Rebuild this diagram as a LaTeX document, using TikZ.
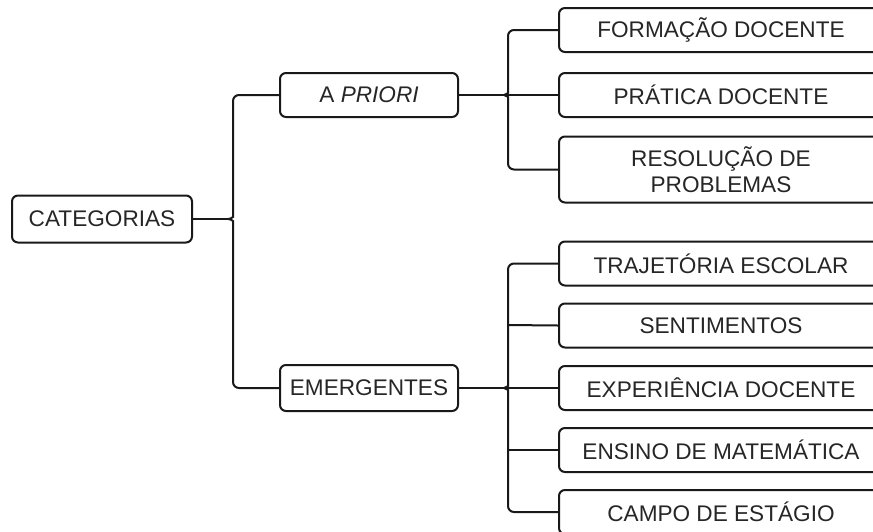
\documentclass[tikz,border=0pt]{standalone}
\usepackage{fontspec}
\setmainfont{Liberation Sans}
\begin{document}
\begin{tikzpicture}[x=1pt,y=-1pt,
  box/.style={draw=black!90, line width=2pt, rounded corners=6pt, fill=white,
    inner sep=0pt, align=center, font=\fontsize{22.6}{26}\selectfont, text=black!85},
  conn/.style={draw=black!90, line width=2pt}]
\useasboundingbox (0,0) rectangle (873,531);
\clip (0,0) rectangle (873,531);
\fill[white] (0,0) rectangle (873,531);
% nodes
\node[box, minimum width=180pt, minimum height=47pt] (cat) at (102,219) {CATEGORIAS};
\node[box, minimum width=178pt, minimum height=44pt] (ap) at (369,95) {A \textit{PRIORI}};
\node[box, minimum width=178pt, minimum height=46pt] (em) at (369,388) {EMERGENTES};
\node[box, minimum width=324pt, minimum height=44pt] (f1) at (721,30) {FORMAÇÃO DOCENTE};
\node[box, minimum width=324pt, minimum height=44pt] (f2) at (721,95) {PRÁTICA DOCENTE};
\node[box, minimum width=324pt, minimum height=66pt] (f3) at (721,169.5) {RESOLUÇÃO DE\\PROBLEMAS};
\node[box, minimum width=324pt, minimum height=44pt] (e1) at (721,263.5) {TRAJETÓRIA ESCOLAR};
\node[box, minimum width=324pt, minimum height=44pt] (e2) at (721,325.5) {SENTIMENTOS};
\node[box, minimum width=324pt, minimum height=44pt] (e3) at (721,388) {EXPERIÊNCIA DOCENTE};
\node[box, minimum width=324pt, minimum height=44pt] (e4) at (721,450) {ENSINO DE MATEMÁTICA};
\node[box, minimum width=324pt, minimum height=44pt] (e5) at (721,512) {CAMPO DE ESTÁGIO};
% junction points
\coordinate (j1) at (228,219);
\coordinate (j2) at (504,95);
\coordinate (j3) at (504,388);
% level 1
\draw[conn] (cat.east) -- (j1);
\draw[conn,rounded corners=6pt] (ap.west) -| (233,211) [sharp corners] .. controls (233,216) and (232,219) .. (j1);
\draw[conn,rounded corners=6pt] (em.west) -| (233,227) [sharp corners] .. controls (233,222) and (232,219) .. (j1);
% level 2, a priori
\draw[conn] (ap.east) -- (f2.west);
\draw[conn,rounded corners=6pt] (f1.west) -| (508,87) [sharp corners] .. controls (508,92) and (507,95) .. (j2);
\draw[conn,rounded corners=6pt] (f3.west) -| (508,103) [sharp corners] .. controls (508,98) and (507,95) .. (j2);
% level 2, emergentes
\draw[conn] (em.east) -- (e3.west);
\draw[conn,rounded corners=6pt] (e1.west) -| (508,380) [sharp corners] .. controls (508,385) and (507,388) .. (j3);
\draw[conn,rounded corners=6pt] (e5.west) -| (508,396) [sharp corners] .. controls (508,391) and (507,388) .. (j3);
\draw[conn] (e2.west) -- (508,325);
\draw[conn] (e4.west) -- (508,450);
\end{tikzpicture}
\end{document}
